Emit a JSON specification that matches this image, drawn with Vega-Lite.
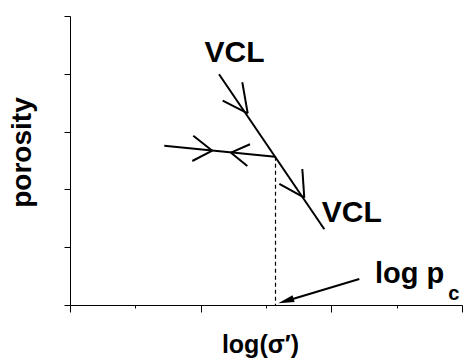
{
  "$schema": "https://vega.github.io/schema/vega-lite/v6.json",
  "width": 392,
  "height": 289,
  "autosize": {"type": "none"},
  "padding": {"left": 70, "top": 16, "right": 1, "bottom": 55},
  "background": "white",
  "config": {"view": {"stroke": null}, "font": "Liberation Sans"},
  "datasets": {
    "solid": [
      {"x": 2.281, "y": 7.983, "x2": 3.893, "y2": 2.619},
      {"x": 1.443, "y": 5.512, "x2": 3.138, "y2": 5.131},
      {"x": 2.720, "y": 6.633, "x2": 2.637, "y2": 7.706},
      {"x": 2.720, "y": 6.633, "x2": 2.337, "y2": 7.069},
      {"x": 3.586, "y": 3.713, "x2": 3.556, "y2": 4.706},
      {"x": 3.586, "y": 3.713, "x2": 3.204, "y2": 4.187},
      {"x": 2.178, "y": 5.339, "x2": 1.887, "y2": 5.858},
      {"x": 2.178, "y": 5.339, "x2": 1.872, "y2": 4.983},
      {"x": 2.464, "y": 5.270, "x2": 2.755, "y2": 5.561},
      {"x": 2.464, "y": 5.270, "x2": 2.714, "y2": 4.810},
      {"x": 4.428, "y": 0.900, "x2": 3.306, "y2": 0.138}
    ],
    "dashed": [
      {"x": 3.1455, "y": 5.131, "x2": 3.1455, "y2": 0}
    ],
    "head": [
      {"x": 3.188, "y": 0.059}
    ],
    "vcl": [
      {"x": 2.518, "y": 8.419, "label": "VCL"},
      {"x": 4.312, "y": 2.882, "label": "VCL"}
    ],
    "logp": [
      {"x": 4.669, "y": 0.751, "label": "log p"}
    ],
    "sub": [
      {"x": 5.791, "y": 0.173, "label": "c"}
    ]
  },
  "layer": [
    {
      "data": {"name": "solid"},
      "mark": {"type": "rule", "color": "black", "strokeWidth": 2},
      "encoding": {
        "x": {
          "field": "x", "type": "quantitative",
          "scale": {"domain": [0, 6], "nice": false, "zero": false},
          "axis": {
            "title": "log(σ′)",
            "labels": false,
            "grid": false,
            "values": [0, 1, 2, 3, 4, 5, 6],
            "domainColor": "black",
            "domainWidth": 1,
            "tickColor": "black",
            "tickWidth": 1,
            "tickSize": {"condition": {"test": "datum.value % 2 === 0", "value": 7}, "value": 3},
            "titleFont": "Liberation Sans",
            "titleFontSize": 25,
            "titleFontWeight": "bold",
            "titleColor": "black",
            "titleX": 190,
            "titleY": 47,
            "titleAlign": "center",
            "titleBaseline": "alphabetic"
          }
        },
        "y": {
          "field": "y", "type": "quantitative",
          "scale": {"domain": [0, 10], "nice": false, "zero": false},
          "axis": {
            "title": "porosity",
            "labels": false,
            "grid": false,
            "values": [0, 1, 2, 3, 4, 5, 6, 7, 8, 9, 10],
            "domainColor": "black",
            "domainWidth": 1,
            "tickColor": "black",
            "tickWidth": 1,
            "tickSize": {"condition": {"test": "datum.value % 2 === 0", "value": 6}, "value": 3},
            "titleFont": "Liberation Sans",
            "titleFontSize": 28,
            "titleFontWeight": "bold",
            "titleColor": "black",
            "titleAngle": 270,
            "titleX": -40,
            "titleY": 136,
            "titleAlign": "center",
            "titleBaseline": "alphabetic"
          }
        },
        "x2": {"field": "x2"},
        "y2": {"field": "y2"}
      }
    },
    {
      "data": {"name": "dashed"},
      "mark": {"type": "rule", "color": "black", "strokeWidth": 1.2, "strokeDash": [4, 3]},
      "encoding": {
        "x": {"field": "x", "type": "quantitative"},
        "y": {"field": "y", "type": "quantitative"},
        "x2": {"field": "x2"},
        "y2": {"field": "y2"}
      }
    },
    {
      "data": {"name": "head"},
      "mark": {
        "type": "point",
        "shape": "M0,0L0.44,2L-0.44,2Z",
        "filled": true,
        "color": "black",
        "opacity": 1,
        "size": 256,
        "angle": 253,
        "strokeWidth": 0
      },
      "encoding": {
        "x": {"field": "x", "type": "quantitative"},
        "y": {"field": "y", "type": "quantitative"}
      }
    },
    {
      "data": {"name": "vcl"},
      "mark": {"type": "text", "font": "Liberation Sans", "fontWeight": "bold", "fontSize": 30, "align": "center", "baseline": "alphabetic", "color": "black"},
      "encoding": {
        "x": {"field": "x", "type": "quantitative"},
        "y": {"field": "y", "type": "quantitative"},
        "text": {"field": "label"}
      }
    },
    {
      "data": {"name": "logp"},
      "mark": {"type": "text", "font": "Liberation Sans", "fontWeight": "bold", "fontSize": 29, "align": "left", "baseline": "alphabetic", "color": "black"},
      "encoding": {
        "x": {"field": "x", "type": "quantitative"},
        "y": {"field": "y", "type": "quantitative"},
        "text": {"field": "label"}
      }
    },
    {
      "data": {"name": "sub"},
      "mark": {"type": "text", "font": "Liberation Sans", "fontWeight": "bold", "fontSize": 20, "align": "left", "baseline": "alphabetic", "color": "black"},
      "encoding": {
        "x": {"field": "x", "type": "quantitative"},
        "y": {"field": "y", "type": "quantitative"},
        "text": {"field": "label"}
      }
    }
  ]
}
